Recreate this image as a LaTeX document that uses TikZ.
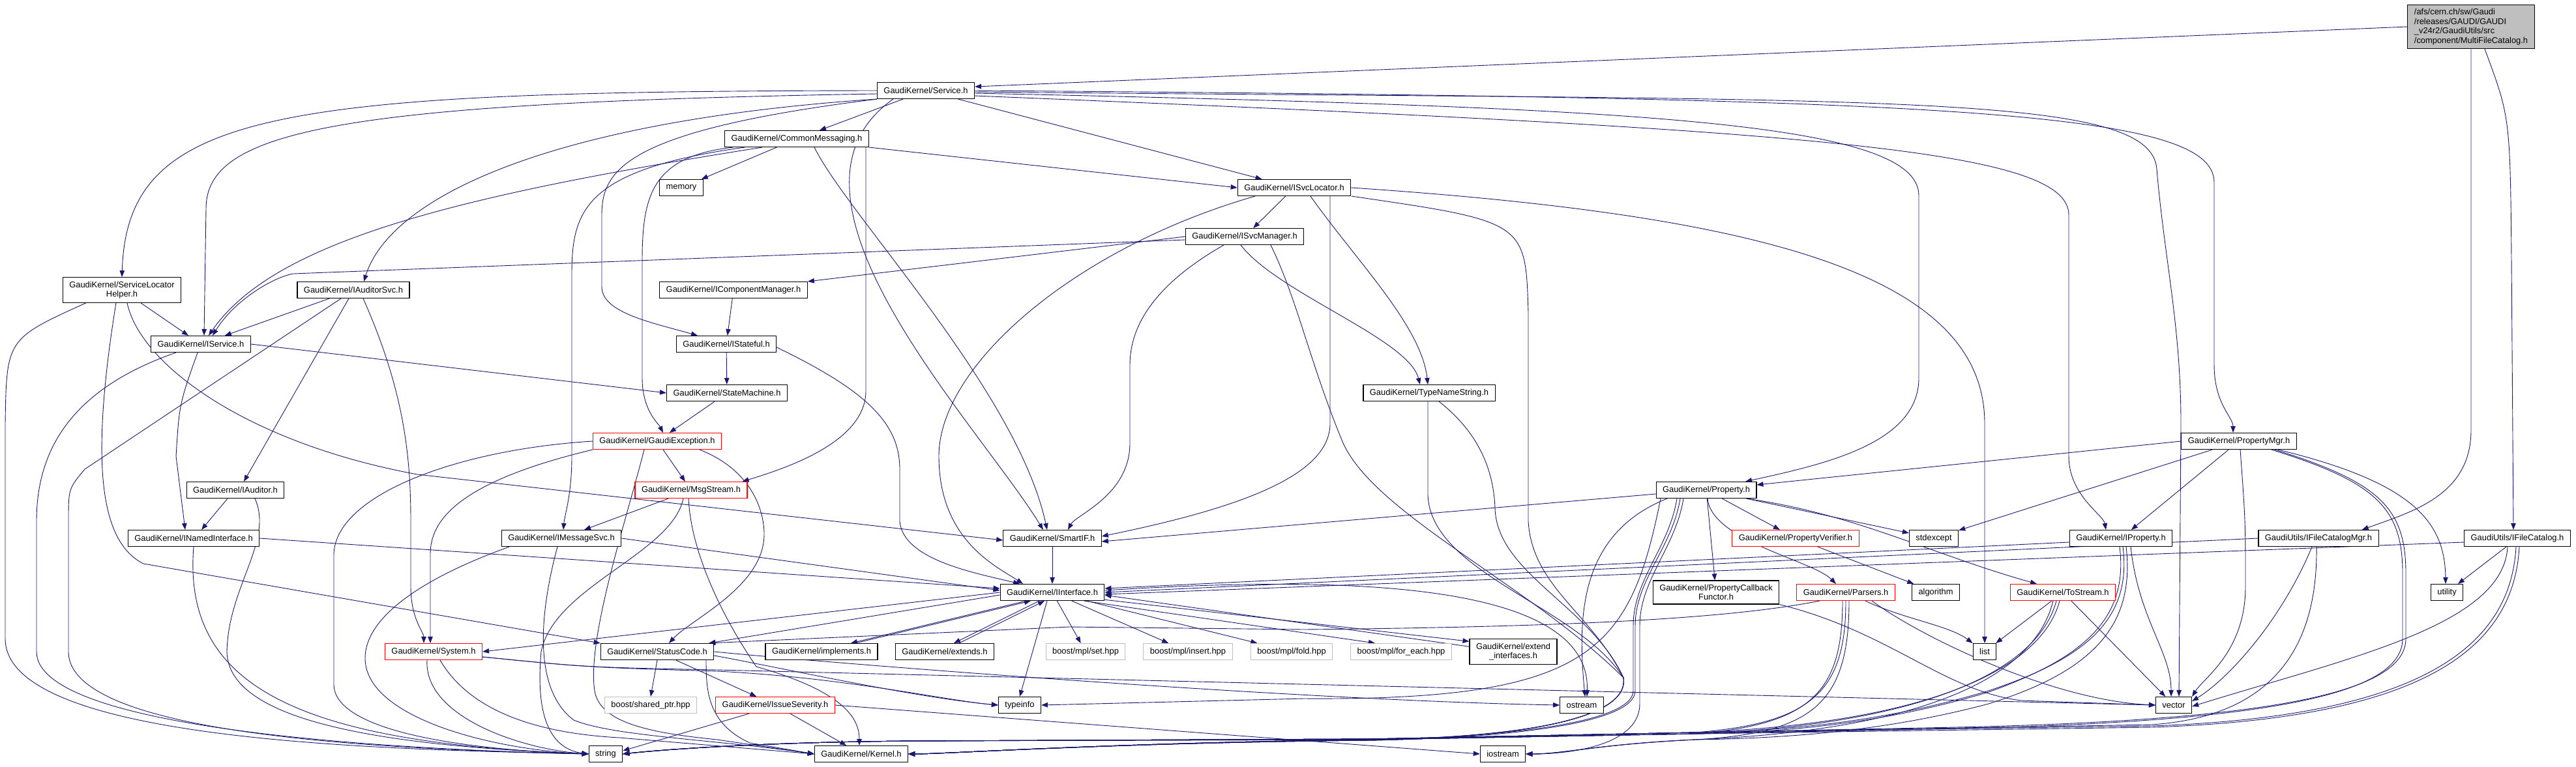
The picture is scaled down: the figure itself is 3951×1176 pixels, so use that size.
\documentclass[tikz,border=0pt]{standalone}
\usepackage{fontspec}
\setmainfont{Liberation Sans}
\usetikzlibrary{arrows.meta,backgrounds}
\definecolor{edgeblue}{HTML}{191970}
\definecolor{sysgray}{HTML}{BFBFBF}

\begin{document}
\begin{tikzpicture}[
  x=1pt, y=-1pt,
  font=\fontsize{12.9}{14.5}\selectfont,
  hdr/.style={draw=black, line width=1.1pt, fill=white, inner xsep=10pt, inner ysep=6pt, minimum height=25pt, align=center},
  hdrred/.style={hdr, draw=red},
  syshdr/.style={hdr, draw=sysgray},
  dep/.style={draw=edgeblue, line width=0.9pt, -{Triangle[length=10pt,width=7.5pt]}}
]
\useasboundingbox (0,0) rectangle (3951,1176);

\node[hdr, fill=sysgray, align=left] (mfc) at (3790,41) {/afs/cern.ch/sw/Gaudi\\/releases/GAUDI/GAUDI\\\_v24r2/GaudiUtils/src\\/component/MultiFileCatalog.h};
\node[hdr] (service) at (1420,139) {GaudiKernel/Service.h};
\node[hdr] (commsg) at (1222,213) {GaudiKernel/CommonMessaging.h};
\node[hdr] (memory) at (1045,288) {memory};
\node[hdr] (isvcloc) at (1985,288) {GaudiKernel/ISvcLocator.h};
\node[hdr] (isvcmgr) at (1909,363) {GaudiKernel/ISvcManager.h};
\node[hdr] (slhelper) at (187,445) {GaudiKernel/ServiceLocator\\Helper.h};
\node[hdr] (iauditorsvc) at (542,445) {GaudiKernel/IAuditorSvc.h};
\node[hdr] (icompmgr) at (1125,445) {GaudiKernel/IComponentManager.h};
\node[hdr] (iservice) at (308,528) {GaudiKernel/IService.h};
\node[hdr] (istateful) at (1114,528) {GaudiKernel/IStateful.h};
\node[hdr] (statemachine) at (1115,603) {GaudiKernel/StateMachine.h};
\node[hdr] (typename) at (2192,603) {GaudiKernel/TypeNameString.h};
\node[hdrred] (gexcept) at (1008,677) {GaudiKernel/GaudiException.h};
\node[hdr] (propmgr) at (3434,677) {GaudiKernel/PropertyMgr.h};
\node[hdr] (iauditor) at (361,752) {GaudiKernel/IAuditor.h};
\node[hdrred] (msgstream) at (1060,752) {GaudiKernel/MsgStream.h};
\node[hdr] (property) at (2617,752) {GaudiKernel/Property.h};
\node[hdr] (inamed) at (297,826) {GaudiKernel/INamedInterface.h};
\node[hdr] (imsgsvc) at (861,826) {GaudiKernel/IMessageSvc.h};
\node[hdr] (smartif) at (1614,826) {GaudiKernel/SmartIF.h};
\node[hdrred] (propverif) at (2754,826) {GaudiKernel/PropertyVerifier.h};
\node[hdr] (stdexcept) at (2966,826) {stdexcept};
\node[hdr] (iproperty) at (3253,826) {GaudiKernel/IProperty.h};
\node[hdr] (ifcmgr) at (3556,826) {GaudiUtils/IFileCatalogMgr.h};
\node[hdr] (ifc) at (3861,826) {GaudiUtils/IFileCatalog.h};
\node[hdr] (iinterface) at (1614,909) {GaudiKernel/IInterface.h};
\node[hdr] (propcb) at (2632,909) {GaudiKernel/PropertyCallback\\Functor.h};
\node[hdrred] (parsers) at (2831,909) {GaudiKernel/Parsers.h};
\node[hdr] (algorithm) at (2969,909) {algorithm};
\node[hdrred] (tostream) at (3164,909) {GaudiKernel/ToStream.h};
\node[hdr] (utility) at (3753,909) {utility};
\node[hdrred] (system) at (665,1000) {GaudiKernel/System.h};
\node[hdr] (statuscode) at (1008,1000) {GaudiKernel/StatusCode.h};
\node[hdr] (implements) at (1260,1000) {GaudiKernel/implements.h};
\node[hdr] (extends) at (1449,1000) {GaudiKernel/extends.h};
\node[syshdr] (mplset) at (1665,1000) {boost/mpl/set.hpp};
\node[syshdr] (mplinsert) at (1822,1000) {boost/mpl/insert.hpp};
\node[syshdr] (mplfold) at (1981,1000) {boost/mpl/fold.hpp};
\node[syshdr] (mplforeach) at (2149,1000) {boost/mpl/for\_each.hpp};
\node[hdr] (extendif) at (2321,1000) {GaudiKernel/extend\\\_interfaces.h};
\node[hdr] (list) at (3044,1000) {list};
\node[syshdr] (sharedptr) at (998,1082) {boost/shared\_ptr.hpp};
\node[hdrred] (issuesev) at (1189,1082) {GaudiKernel/IssueSeverity.h};
\node[hdr] (typeinfo) at (1564,1082) {typeinfo};
\node[hdr] (ostream) at (2426,1082) {ostream};
\node[hdr] (vector) at (3334,1082) {vector};
\node[hdr] (string) at (929,1157) {string};
\node[hdr] (kernel) at (1321,1157) {GaudiKernel/Kernel.h};
\node[hdr] (iostream) at (2305,1157) {iostream};

\begin{pgfonlayer}{background}
\draw[dep] (mfc.west) -- ([yshift=6pt]service.east);
\draw[dep] (mfc.south) -- (3790,660) .. controls (3790,760) and (3700,785) .. ([xshift=-26pt]ifcmgr.north east);
\draw[dep] ([xshift=21pt]mfc.south) .. controls (3850,180) .. (3852,400) -- ([xshift=-6pt]ifc.north);

\draw[dep] (service) -- (commsg);
\draw[dep] (service) -- (isvcloc);
\draw[dep] (service.west) .. controls (420,140) and (195,170) .. (slhelper.north);
\draw[dep] ([yshift=-5pt]service.west) .. controls (520,158) and (316,200) .. (316,320) -- ([xshift=5pt]iservice.north);
\draw[dep] (service.south west) .. controls (850,185) and (600,300) .. ([xshift=16pt]iauditorsvc.north);
\draw[dep] (service.south west) .. controls (960,200) and (923,260) .. (923,330) -- (923,440) .. controls (923,480) and (1000,495) .. ([xshift=-44pt]istateful.north);
\draw[dep] ([xshift=25pt]service.south west) .. controls (1160,300) and (1500,650) .. ([xshift=-14pt]smartif.north);
\draw[dep] ([yshift=-4pt]service.east) .. controls (2500,165) and (2943,185) .. (2943,300) -- (2943,580) .. controls (2943,680) and (2800,712) .. ([xshift=60pt]property.north);
\draw[dep] ([yshift=-8pt]service.east) .. controls (2800,200) and (3173,230) .. (3173,330) -- (3173,700) .. controls (3173,760) and (3226,790) .. ([xshift=-23pt]iproperty.north);
\draw[dep] (service.east) .. controls (3000,150) and (3396,170) .. (3396,280) -- (3396,560) .. controls (3396,620) and (3425,640) .. ([xshift=-9pt]propmgr.north);
\draw[dep] ([yshift=-2pt]service.east) .. controls (2900,155) and (3300,140) .. (3308,260) .. controls (3320,400) and (3345,500) .. (3345,650) -- ([xshift=8pt]vector.north);

\draw[dep] (commsg) -- (memory);
\draw[dep] (commsg.south east) -- (isvcloc.west);
\draw[dep] ([xshift=-53pt]commsg.south) .. controls (700,300) and (420,370) .. ([xshift=12pt]iservice.north);
\draw[dep] ([xshift=-80pt]commsg.south) .. controls (900,260) and (877,320) .. (877,420) -- (877,700) .. controls (877,760) and (866,790) .. ([xshift=3pt]imsgsvc.north);
\draw[dep] ([xshift=-98pt]commsg.south) .. controls (1000,240) and (985,300) .. (985,400) -- (985,580) .. controls (985,630) and (1010,650) .. ([xshift=9pt]gexcept.north);
\draw[dep] ([xshift=106pt]commsg.south) .. controls (1328,300) .. (1328,420) -- (1328,600) .. controls (1328,680) and (1200,720) .. ([xshift=-8pt]msgstream.north east);
\draw[dep] ([xshift=27pt]commsg.south) .. controls (1300,330) and (1560,600) .. ([xshift=-8pt]smartif.north);

\draw[dep] (isvcloc) -- (isvcmgr);
\draw[dep] ([xshift=-60pt]isvcloc.south) .. controls (1650,380) and (1440,560) .. (1440,700) .. controls (1440,830) and (1530,870) .. ([xshift=-45pt]iinterface.north);
\draw[dep] ([xshift=55pt]isvcloc.south) .. controls (2040,360) .. (2040,450) -- (2040,650) .. controls (2040,730) and (1900,780) .. ([yshift=3pt]smartif.east);
\draw[dep] ([xshift=25pt]isvcloc.south) .. controls (2080,400) and (2180,500) .. ([xshift=-2pt]typename.north);
\draw[dep] (isvcloc.east) .. controls (2700,330) and (3044,420) .. (3044,650) -- (list.north);
\draw[dep] ([xshift=88pt]isvcloc.south) .. controls (2340,340) .. (2344,480) -- (2344,800) .. controls (2350,900) and (2440,940) .. (2490,1040) .. controls (2500,1110) and (2300,1132) .. (2100,1136) .. controls (1700,1140) and (1450,1157) .. (kernel.east);

\draw[dep] (isvcmgr.west) -- (icompmgr.north east);
\draw[dep] ([yshift=-5pt]isvcmgr.west) -- (450,420) .. controls (420,425) and (360,460) .. ([xshift=18pt]iservice.north);
\draw[dep] ([xshift=-32pt]isvcmgr.south) .. controls (1800,420) and (1733,480) .. (1733,560) -- (1733,680) .. controls (1733,760) and (1650,790) .. ([xshift=24pt]smartif.north);
\draw[dep] ([xshift=-6pt]isvcmgr.south) .. controls (1960,450) and (2160,520) .. ([xshift=-14pt]typename.north);
\draw[dep] ([xshift=40pt]isvcmgr.south) .. controls (1990,460) and (2010,560) .. (2060,680) .. controls (2110,790) and (2350,900) .. (2490,1040) .. controls (2500,1110) and (2300,1132) .. (2100,1136) .. controls (1700,1140) and (1450,1157) .. (kernel.east);
\draw[dep] (icompmgr) -- (istateful);

\draw[dep] ([xshift=-2pt]typename.south) -- (2190,760) .. controls (2195,880) and (2420,930) .. (2490,1040) .. controls (2500,1110) and (2300,1132) .. (2100,1135) -- (1400,1137) .. controls (1150,1139) and (1000,1152) .. (string.east);
\draw[dep] ([xshift=15pt]typename.south) .. controls (2250,650) and (2290,700) .. (2293,780) .. controls (2296,880) and (2440,930) .. (2490,1040) .. controls (2500,1110) and (2300,1132) .. (2100,1136) .. controls (1700,1140) and (1450,1157) .. (kernel.east);

\draw[dep] (slhelper) -- (iservice);
\draw[dep] ([xshift=-55pt]slhelper.south) .. controls (10,520) .. (8,650) -- (8,980) .. controls (8,1140) and (600,1150) .. (string.west);
\draw[dep] ([xshift=-9pt]slhelper.south) .. controls (140,700) and (150,830) .. (220,865) -- (statuscode.north west);
\draw[dep] ([xshift=8pt]slhelper.south) .. controls (215,560) and (380,680) .. (640,728) -- ([yshift=-3pt]smartif.west);

\draw[dep] (iauditorsvc) -- (iservice);
\draw[dep] ([xshift=-7pt]iauditorsvc.south) -- ([xshift=13pt]iauditor.north);
\draw[dep] ([xshift=-19pt]iauditorsvc.south) -- (130,720) .. controls (105,750) .. (105,800) -- (105,1000) .. controls (105,1130) and (600,1150) .. (string.west);
\draw[dep] ([xshift=15pt]iauditorsvc.south) .. controls (620,600) and (630,700) .. (630,800) -- (630,900) .. controls (630,950) and (650,970) .. ([xshift=-15pt]system.north);

\draw[dep] (iservice.east) -- (statemachine.west);
\draw[dep] ([xshift=-5pt]iservice.south) .. controls (275,620) .. (270,700) -- ([xshift=-13pt]inamed.north);
\draw[dep] ([xshift=-38pt]iservice.south) .. controls (100,600) and (56,700) .. (56,800) -- (56,1000) .. controls (56,1120) and (600,1150) .. (string.west);

\draw[dep] ([xshift=-12pt]iauditor.south) -- ([xshift=12pt]inamed.north);
\draw[dep] ([xshift=30pt]iauditor.south) .. controls (420,830) and (350,900) .. (348,1000) .. controls (350,1110) and (600,1145) .. (string.west);
\draw[dep] (inamed.east) -- ([yshift=6pt]iinterface.west);
\draw[dep] (inamed.south) .. controls (280,1050) and (450,1140) .. (string.west);

\draw[dep] (imsgsvc.east) -- ([yshift=3pt]iinterface.west);
\draw[dep] ([xshift=-80pt]imsgsvc.south) .. controls (640,890) and (560,950) .. (560,1010) .. controls (560,1100) and (750,1150) .. (string.west);
\draw[dep] ([xshift=-6pt]imsgsvc.south) .. controls (825,950) and (820,1060) .. (880,1105) .. controls (940,1130) and (1100,1135) .. (kernel.west);

\draw[dep] (istateful) -- (statemachine);
\draw[dep] ([yshift=-5pt]istateful.east) .. controls (1330,600) and (1380,650) .. (1380,720) -- (1380,800) .. controls (1385,860) and (1500,880) .. ([xshift=-50pt]iinterface.north);
\draw[dep] (statemachine) -- (gexcept);

\draw[dep] (gexcept) -- (msgstream);
\draw[dep] ([xshift=-99pt]gexcept.south) .. controls (700,740) and (660,800) .. (660,850) -- ([xshift=-5pt]system.north);
\draw[dep] (gexcept.west) .. controls (700,690) and (515,760) .. (512,850) -- (512,1050) .. controls (512,1120) and (700,1150) .. (string.west);
\draw[dep] ([xshift=65pt]gexcept.south) .. controls (1150,720) and (1172,780) .. (1172,820) .. controls (1172,900) and (1060,950) .. ([xshift=18pt]statuscode.north);
\draw[dep] ([xshift=-20pt]gexcept.south) .. controls (960,800) and (900,980) .. (912,1060) .. controls (920,1110) and (1000,1125) .. (1100,1135) -- (kernel.west);

\draw[dep] (msgstream) -- (imsgsvc);
\draw[dep] ([xshift=-12pt]msgstream.south) .. controls (1030,850) and (850,900) .. (830,1000) .. controls (820,1110) and (850,1150) .. (string.west);
\draw[dep] ([xshift=-4pt]msgstream.south) .. controls (1060,850) and (1110,950) .. (1160,1023) .. controls (1290,1060) and (1318,1100) .. ([xshift=-3pt]kernel.north);

\draw[dep] (smartif) -- (iinterface);

\draw[dep] ([yshift=-4pt]iinterface.west) -- ([xshift=-8pt]statuscode.north east);
\draw[dep] (iinterface.west) -- (system.east);
\draw[dep] ([xshift=-40pt]iinterface.south) -- ([xshift=45pt]implements.north);
\draw[dep] ([xshift=52pt]implements.north) -- ([xshift=-33pt]iinterface.south);
\draw[dep] ([xshift=-20pt]iinterface.south) -- ([xshift=14pt]extends.north);
\draw[dep] ([xshift=22pt]extends.north) -- ([xshift=-12pt]iinterface.south);
\draw[dep] ([xshift=-8pt]iinterface.south) -- (typeinfo.north);
\draw[dep] (iinterface) -- (mplset);
\draw[dep] (iinterface) -- (mplinsert);
\draw[dep] (iinterface) -- (mplfold);
\draw[dep] (iinterface.-15) -- ([xshift=-40pt]mplforeach.north);
\draw[dep] (iinterface.-8) -- ([yshift=-4pt]extendif.north west);
\draw[dep] ([yshift=-12pt]extendif.north west) -- (iinterface.-3);
\draw[dep] ([yshift=3pt]iinterface.east) .. controls (2100,880) and (2440,900) .. ([xshift=8pt]ostream.north);

\draw[dep] ([yshift=-8pt]system.east) .. controls (900,1024) .. (1100,1028) -- (vector.west);
\draw[dep] ([yshift=-8pt]system.east) .. controls (900,1024) .. (1100,1030) .. controls (1300,1040) and (1450,1075) .. (typeinfo.west);
\draw[dep] ([xshift=-10pt]system.south) .. controls (650,1100) and (800,1150) .. (string.west);
\draw[dep] ([xshift=10pt]system.south) .. controls (720,1090) and (820,1125) .. (950,1132) -- (kernel.west);

\draw[dep] (statuscode.south) -- (sharedptr.north);
\draw[dep] (statuscode) -- (issuesev);
\draw[dep] (statuscode.east) .. controls (1300,1020) and (2000,1075) .. (ostream.west);
\draw[dep] ([yshift=-6pt]statuscode.east) .. controls (1200,1025) and (1400,1070) .. (typeinfo.west);
\draw[dep] ([xshift=75pt]statuscode.south) .. controls (1083,1060) and (1085,1110) .. (1150,1140) -- (kernel.west);

\draw[dep] (issuesev) -- (kernel);
\draw[dep] ([xshift=-40pt]issuesev.south) -- ([yshift=5pt]string.east);
\draw[dep] (issuesev.east) -- (iostream.west);

\draw[dep] ([yshift=-6pt]property.west) -- ([yshift=-5pt]smartif.east);
\draw[dep] (property) -- (stdexcept);
\draw[dep] (property) -- (propverif);
\draw[dep] (property) -- (propcb);
\draw[dep] ([xshift=2pt]property.south) .. controls (2625,830) and (2780,860) .. ([xshift=-15pt]parsers.north);
\draw[dep] ([xshift=62pt]property.south) .. controls (2850,790) and (2960,850) .. ([xshift=-40pt]tostream.north);
\draw[dep] ([xshift=-60pt]property.south) .. controls (2420,820) and (2420,950) .. ([xshift=5pt]ostream.north);
\draw[dep] ([xshift=-70pt]property.south) .. controls (2500,1000) and (2440,1075) .. (2000,1072) -- (typeinfo.east);
\draw[dep] ([xshift=-45pt]property.south) .. controls (2560,840) and (2505,890) .. (2505,960) -- (2505,1060) .. controls (2505,1110) and (2300,1132) .. (2100,1135) -- (1400,1137) .. controls (1150,1139) and (1000,1152) .. (string.east);
\draw[dep] ([xshift=-40pt]property.south) .. controls (2565,840) and (2508,890) .. (2508,960) -- (2508,1060) .. controls (2508,1112) and (2300,1133) .. (2100,1136) .. controls (1700,1140) and (1450,1157) .. (kernel.east);
\draw[dep] ([xshift=-35pt]property.south) .. controls (2570,840) and (2515,890) .. (2515,960) -- (2515,1080) .. controls (2515,1140) and (2420,1157) .. (iostream.east);

\draw[dep] (propverif) -- (algorithm);
\draw[dep] (propcb.south east) .. controls (2900,970) and (2980,1060) .. (3100,1075) -- (vector.west);

\draw[dep] ([xshift=-40pt]parsers.south) .. controls (2650,950) and (2400,962) .. (2000,966) -- (1640,962) -- ([xshift=-8pt]statuscode.north east);
\draw[dep] ([xshift=30pt]parsers.south) .. controls (2920,950) and (2990,960) .. (list.north west);
\draw[dep] ([xshift=40pt]parsers.south) .. controls (2950,980) and (3150,1075) .. (vector.west);
\draw[dep] (parsers.south) .. controls (2831,1060) and (2780,1110) .. (2600,1124) -- (2100,1134) -- (1400,1137) .. controls (1150,1139) and (1000,1152) .. (string.east);
\draw[dep] ([xshift=-5pt]parsers.south) .. controls (2826,1060) and (2780,1112) .. (2600,1126) -- (2100,1135) .. controls (1700,1140) and (1450,1157) .. (kernel.east);
\draw[dep] ([xshift=5pt]parsers.south) .. controls (2836,1080) and (2780,1125) .. (2600,1135) .. controls (2450,1142) and (2400,1157) .. (iostream.east);

\draw[dep] (tostream) -- (list);
\draw[dep] (tostream) -- (vector);
\draw[dep] ([xshift=-5pt]tostream.south) .. controls (3130,1030) and (2950,1110) .. (2600,1124) -- (2100,1134) -- (1400,1137) .. controls (1150,1139) and (1000,1152) .. (string.east);
\draw[dep] ([xshift=-10pt]tostream.south) .. controls (3125,1030) and (2950,1112) .. (2600,1126) -- (2100,1135) .. controls (1700,1140) and (1450,1157) .. (kernel.east);
\draw[dep] ([xshift=-15pt]tostream.south) .. controls (3120,1040) and (2950,1120) .. (2600,1135) .. controls (2450,1142) and (2400,1157) .. (iostream.east);

\draw[dep] ([yshift=-6pt]iproperty.west) -- ([yshift=6pt]iinterface.east);
\draw[dep] ([xshift=15pt]iproperty.south) .. controls (3280,950) and (3330,1000) .. ([xshift=-4pt]vector.north);
\draw[dep] ([xshift=3pt]iproperty.south) .. controls (3270,950) and (3200,1010) .. (3050,1060) .. controls (2900,1105) and (2750,1122) .. (2600,1124) -- (2100,1134) -- (1400,1137) .. controls (1150,1139) and (1000,1152) .. (string.east);
\draw[dep] ([xshift=-2pt]iproperty.south) .. controls (3265,950) and (3195,1010) .. (3050,1062) .. controls (2900,1107) and (2750,1124) .. (2600,1126) -- (2100,1135) .. controls (1700,1140) and (1450,1157) .. (kernel.east);
\draw[dep] ([xshift=8pt]iproperty.south) .. controls (3275,960) and (3210,1030) .. (3050,1080) .. controls (2900,1120) and (2750,1133) .. (2600,1135) .. controls (2450,1142) and (2400,1157) .. (iostream.east);

\draw[dep] (propmgr.west) -- ([yshift=8pt]property.east);
\draw[dep] (propmgr) -- (iproperty);
\draw[dep] (propmgr) -- (stdexcept);
\draw[dep] ([xshift=2pt]propmgr.south) .. controls (3444,800) .. (3444,900) .. controls (3444,1000) and (3380,1040) .. (vector.north east);
\draw[dep] ([xshift=60pt]propmgr.south) .. controls (3700,740) and (3750,800) .. ([xshift=-2pt]utility.north);
\draw[dep] ([xshift=55pt]propmgr.south) .. controls (3650,740) and (3690,780) .. (3690,880) -- (3690,980) .. controls (3690,1060) and (3500,1105) .. (3000,1116) -- (2600,1124) -- (2100,1134) -- (1400,1137) .. controls (1150,1139) and (1000,1152) .. (string.east);
\draw[dep] ([xshift=50pt]propmgr.south) .. controls (3645,740) and (3685,780) .. (3685,880) -- (3685,980) .. controls (3685,1062) and (3500,1107) .. (3000,1118) -- (2600,1126) -- (2100,1135) .. controls (1700,1140) and (1450,1157) .. (kernel.east);

\draw[dep] (ifcmgr.west) -- (iinterface.east);
\draw[dep] ([xshift=-10pt]ifcmgr.south) .. controls (3500,950) and (3420,1040) .. ([yshift=6pt]vector.east);
\draw[dep] ([xshift=-3pt]ifcmgr.south) .. controls (3555,1000) and (3480,1100) .. (3300,1112) -- (2600,1124) -- (2100,1134) -- (1400,1137) .. controls (1150,1139) and (1000,1152) .. (string.east);

\draw[dep] ([yshift=-6pt]ifc.west) -- ([yshift=-3pt]iinterface.east);
\draw[dep] (ifc) -- (utility);
\draw[dep] ([xshift=-15pt]ifc.south) .. controls (3840,960) and (3600,1010) .. ([yshift=-2pt]vector.east);
\draw[dep] ([xshift=-2pt]ifc.south) .. controls (3850,1000) and (3700,1100) .. (3300,1114) -- (2600,1124) -- (2100,1134) -- (1400,1137) .. controls (1150,1139) and (1000,1152) .. (string.east);
\draw[dep] ([xshift=3pt]ifc.south) .. controls (3855,1005) and (3700,1103) .. (3300,1116) -- (2600,1126) -- (2100,1135) .. controls (1700,1140) and (1450,1157) .. (kernel.east);
\end{pgfonlayer}
\end{tikzpicture}
\end{document}
